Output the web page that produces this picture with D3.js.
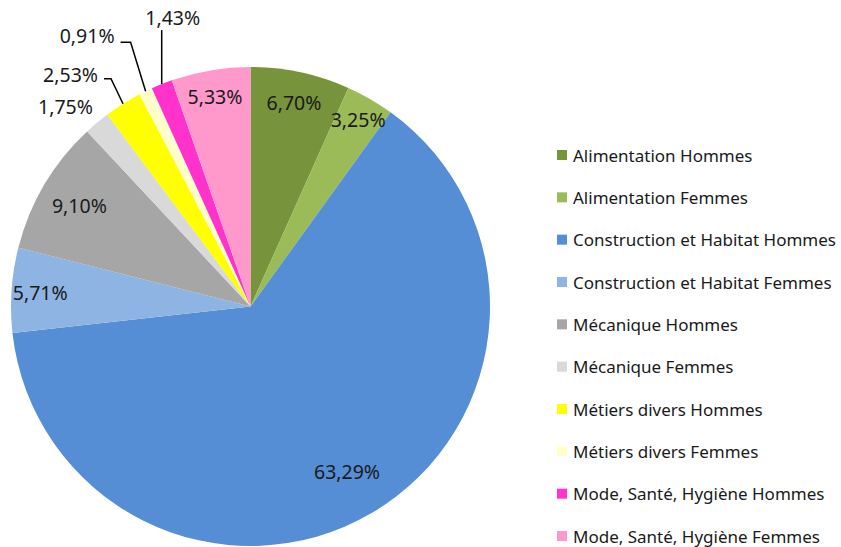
<!DOCTYPE html>
<html>
<head>
<meta charset="utf-8">
<script src="https://cdn.jsdelivr.net/npm/d3@7"></script>
<style>
  body { margin: 0; background: #fff; }
  svg text { font-family: "Noto Sans", "Open Sans", sans-serif; fill: #1a1a1a; }
</style>
</head>
<body>
<div id="pieChart"></div>
<script>
var categories = [
  "Alimentation Hommes", "Alimentation Femmes",
  "Construction et Habitat Hommes", "Construction et Habitat Femmes",
  "Mécanique Hommes", "Mécanique Femmes",
  "Métiers divers Hommes", "Métiers divers Femmes",
  "Mode, Santé, Hygiène Hommes", "Mode, Santé, Hygiène Femmes"
];
var values = [6.70, 3.25, 63.29, 5.71, 9.10, 1.75, 2.53, 0.91, 1.43, 5.33];
var colors = [
  "#77933c", "#9bbb59", "#558ed5", "#8eb4e3", "#a6a6a6",
  "#d9d9d9", "#ffff00", "#ffffcc", "#ff33cc", "#ff99cc"
];

// label placement: inside (radius factor) or outside with a leader line
var labelLayout = [
  { r: 0.87 }, { r: 0.90 }, { r: 0.80 }, { r: 0.88 }, { r: 0.83 },
  { out: true, dx: -4, dy: -16, line: false },
  { out: true, dx: -25, dy: -29, lineY: 4, elbow: 7 },
  { out: true, dx: -31, dy: -56, lineY: 7, elbow: 10 },
  { out: true, dx: 11, dy: -67, vertical: true },
  { r: 0.89 }
];

var width = 841, height = 547;
var cx = 250.5, cy = 306.5, radius = 239.5;
var labelSize = "19.5px";

var svg = d3.select("#pieChart")
  .append("svg")
  .attr("width", width)
  .attr("height", height);

var g = svg.append("g").attr("transform", "translate(" + cx + "," + cy + ")");

var data = categories.map(function (c, i) {
  return { name: c, value: values[i], color: colors[i], layout: labelLayout[i] };
});

var pie = d3.pie().sort(null).value(function (d) { return d.value; });
var arc = d3.arc().innerRadius(0).outerRadius(radius);

var arcs = pie(data);

g.selectAll(".slice")
  .data(arcs)
  .enter()
  .append("path")
  .attr("class", "slice")
  .attr("d", arc)
  .attr("fill", function (d) { return d.data.color; });

function fmt(v) {
  return v.toFixed(2).replace(".", ",") + "%";
}

function pointAt(a, r) {
  return [r * Math.sin(a), -r * Math.cos(a)];
}

arcs.forEach(function (d) {
  var mid = (d.startAngle + d.endAngle) / 2;
  var L = d.data.layout;
  if (!L.out) {
    var p = pointAt(mid, radius * L.r);
    g.append("text")
      .attr("x", p[0]).attr("y", p[1])
      .attr("text-anchor", "middle")
      .attr("dominant-baseline", "central")
      .style("font-size", labelSize)
      .text(fmt(d.data.value));
    return;
  }
  var e = pointAt(mid, radius);
  var tx = e[0] + L.dx, ty = e[1] + L.dy;
  if (L.vertical) {
    g.append("path")
      .attr("d", "M" + e[0] + "," + e[1] + "V" + (ty + 13))
      .attr("stroke", "#000").attr("stroke-width", 1.5).attr("fill", "none");
    g.append("text")
      .attr("x", tx).attr("y", ty)
      .attr("text-anchor", "middle")
      .attr("dominant-baseline", "central")
      .style("font-size", labelSize)
      .text(fmt(d.data.value));
  } else {
    if (L.line !== false) {
      var hx = tx + 6;
      g.append("path")
        .attr("d", "M" + hx + "," + (ty + L.lineY) + "H" + (hx + L.elbow) + "L" + e[0] + "," + e[1])
        .attr("stroke", "#000").attr("stroke-width", 1.5).attr("fill", "none");
    }
    g.append("text")
      .attr("x", tx).attr("y", ty)
      .attr("text-anchor", "end")
      .attr("dominant-baseline", "central")
      .style("font-size", labelSize)
      .text(fmt(d.data.value));
  }
});

// legend
var legendY = d3.scalePoint().domain(categories).range([155, 536]);

var legend = svg.selectAll(".legend")
  .data(data)
  .enter()
  .append("g")
  .attr("class", "legend")
  .attr("transform", function (d) { return "translate(557," + legendY(d.name) + ")"; });

legend.append("rect")
  .attr("x", 0).attr("y", -5)
  .attr("width", 10).attr("height", 10)
  .attr("fill", function (d) { return d.color; });

legend.append("text")
  .attr("x", 16).attr("y", 0)
  .attr("dominant-baseline", "central")
  .style("font-size", "17px")
  .text(function (d) { return d.name; });
</script>
</body>
</html>
